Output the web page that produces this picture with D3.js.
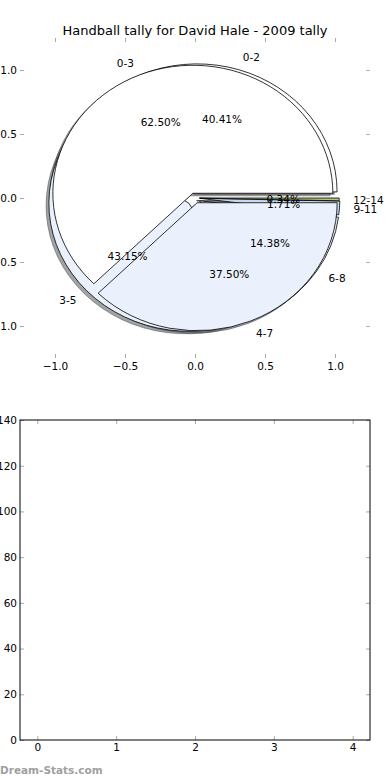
<!DOCTYPE html>
<html lang="en">
<head>
    <meta charset="UTF-8">
    <title>Handball tally</title>
    <script src="https://cdn.jsdelivr.net/npm/d3@7/dist/d3.min.js"></script>
</head>
<body style="margin:0; width:390px; height:780px; background-color:#ffffff; overflow:hidden;">
<script>
    // outer pie (drawn on top)
    const ageA = ["0-3", "4-7"]
    const countA = [5, 3]
    // inner pie (drawn underneath)
    const ageB = ["0-2", "3-5", "6-8", "9-11", "12-14"]
    const countB = [118, 126, 42, 5, 1]

    const colorsA = ["#ffffff", "#eaf0fc"]
    const colorsB = ["#ffffff", "#eaf0fc", "#eaf0fc", "#c5d9f5", "#b5c97a"]
    const explodeA = [0.04, 0.04]
    const explodeB = [0.05, 0.06, 0.04, 0.035, 0.03]

    const pieTicks = [-1.0, -0.5, 0.0, 0.5, 1.0]
    const barXTicks = [0, 1, 2, 3, 4]
    const barYTicks = [0, 20, 40, 60, 80, 100, 120, 140]

    const width = 390, height = 780
    const font = "'DejaVu Sans', sans-serif"

    const svg = d3.select("body")
        .append("svg")
        .attr("width", width)
        .attr("height", height)
        .style("font-family", font)

    const xPie = d3.scaleLinear().domain([-1.25, 1.25]).range([20, 370])
    const yPie = d3.scaleLinear().domain([-1.25, 1.25]).range([358, 38])

    svg.append("text")
        .attr("x", 195)
        .attr("y", 30)
        .attr("text-anchor", "middle")
        .attr("dominant-baseline", "central")
        .style("font-size", "13px")
        .text("Handball tally for David Hale - 2009 tally")

    // pie slices, matplotlib style: start at 3 o'clock, counterclockwise
    const R = 100
    const kx = (xPie(1) - xPie(0)) / R
    const ky = (yPie(0) - yPie(1)) / R
    const pie = d3.pie().sort(null).startAngle(Math.PI / 2).endAngle(Math.PI / 2 - 2 * Math.PI)
    const arc = d3.arc().innerRadius(0).outerRadius(R)

    const build = (labels, counts, colors, explode) => {
        const total = d3.sum(counts)
        return pie(counts).map((p, i) => {
            const mid = (p.startAngle + p.endAngle) / 2
            return {
                p, label: labels[i], color: colors[i],
                pct: d3.format(".2f")(counts[i] / total * 100) + "%",
                dx: Math.sin(mid), dy: Math.cos(mid),
                cx: explode[i] * Math.sin(mid), cy: explode[i] * Math.cos(mid)
            }
        })
    }
    const slicesA = build(ageA, countA, colorsA, explodeA)
    const slicesB = build(ageB, countB, colorsB, explodeB)
    const all = slicesB.concat(slicesA)

    const shade = (c) => {
        const r = d3.rgb(c)
        return d3.rgb(r.r * 0.3, r.g * 0.3, r.b * 0.3).toString()
    }

    // shadows first
    svg.append("g").selectAll("path")
        .data(all)
        .join("path")
        .attr("transform", d => `translate(${xPie(d.cx - 0.02)},${yPie(d.cy - 0.02)}) scale(${kx},${ky})`)
        .attr("d", d => arc(d.p))
        .attr("fill", d => shade(d.color))
        .attr("stroke", d => shade(d.color))
        .attr("fill-opacity", 0.5)
        .attr("stroke-opacity", 0.5)
        .attr("stroke-width", 1)
        .attr("vector-effect", "non-scaling-stroke")

    svg.append("g").selectAll("path")
        .data(all)
        .join("path")
        .attr("transform", d => `translate(${xPie(d.cx)},${yPie(d.cy)}) scale(${kx},${ky})`)
        .attr("d", d => arc(d.p))
        .attr("fill", d => d.color)
        .attr("stroke", "#000")
        .attr("stroke-width", 0.8)
        .attr("vector-effect", "non-scaling-stroke")

    svg.append("g").selectAll("text")
        .data(all)
        .join("text")
        .attr("x", d => xPie(d.cx + 1.1 * d.dx))
        .attr("y", d => yPie(d.cy + 1.1 * d.dy))
        .attr("text-anchor", d => d.cx + 1.1 * d.dx > 0 ? "start" : "end")
        .attr("dominant-baseline", "central")
        .style("font-size", "10.5px")
        .text(d => d.label)

    svg.append("g").selectAll("text")
        .data(all)
        .join("text")
        .attr("x", d => xPie(d.cx + 0.6 * d.dx))
        .attr("y", d => yPie(d.cy + 0.6 * d.dy))
        .attr("text-anchor", "middle")
        .attr("dominant-baseline", "central")
        .style("font-size", "10.5px")
        .text(d => d.pct)

    // pie axes: no frame, small grey ticks on all sides
    const tickStyle = g => {
        g.select(".domain").remove()
        g.selectAll(".tick line").attr("stroke", "#aaa")
        g.selectAll(".tick text").style("font-family", font).style("font-size", "10.5px").attr("fill", "#000")
    }
    svg.append("g").attr("transform", "translate(0,358)")
        .call(d3.axisBottom(xPie).tickValues(pieTicks).tickFormat(d3.format(".1f")).tickSizeInner(-4).tickPadding(5))
        .call(tickStyle)
    svg.append("g").attr("transform", "translate(0,38)")
        .call(d3.axisTop(xPie).tickValues(pieTicks).tickFormat("").tickSizeInner(-4))
        .call(tickStyle)
    svg.append("g").attr("transform", "translate(20,0)")
        .call(d3.axisLeft(yPie).tickValues(pieTicks).tickFormat(d3.format(".1f")).tickSizeInner(-4).tickPadding(3))
        .call(tickStyle)
    svg.append("g").attr("transform", "translate(370,0)")
        .call(d3.axisRight(yPie).tickValues(pieTicks).tickFormat("").tickSizeInner(-4))
        .call(tickStyle)

    // empty second panel
    const xBar = d3.scaleLinear().domain([-0.22, 4.22]).range([20, 370])
    const yBar = d3.scaleLinear().domain([0, 140]).range([740, 420])

    svg.append("g").attr("transform", "translate(0,740)")
        .call(d3.axisBottom(xBar).tickValues(barXTicks).tickFormat(d3.format("d")).tickSizeInner(-4).tickPadding(4))
        .call(tickStyle)
    svg.append("g").attr("transform", "translate(0,420)")
        .call(d3.axisTop(xBar).tickValues(barXTicks).tickFormat("").tickSizeInner(-4))
        .call(tickStyle)
    svg.append("g").attr("transform", "translate(20,0)")
        .call(d3.axisLeft(yBar).tickValues(barYTicks).tickFormat(d3.format("d")).tickSizeInner(-4).tickPadding(3))
        .call(tickStyle)
    svg.append("g").attr("transform", "translate(370,0)")
        .call(d3.axisRight(yBar).tickValues(barYTicks).tickFormat("").tickSizeInner(-4))
        .call(tickStyle)

    svg.append("rect")
        .attr("x", xBar.range()[0])
        .attr("y", yBar.range()[1])
        .attr("width", xBar.range()[1] - xBar.range()[0])
        .attr("height", yBar.range()[0] - yBar.range()[1])
        .attr("fill", "none")
        .attr("stroke", "#000")
        .attr("stroke-width", 1)

    svg.append("text")
        .attr("x", 0)
        .attr("y", 770)
        .attr("dominant-baseline", "central")
        .attr("fill", "#a0a0a0")
        .style("font-size", "10.5px")
        .style("font-weight", "bold")
        .text("Dream-Stats.com")
</script>
</body>
</html>
